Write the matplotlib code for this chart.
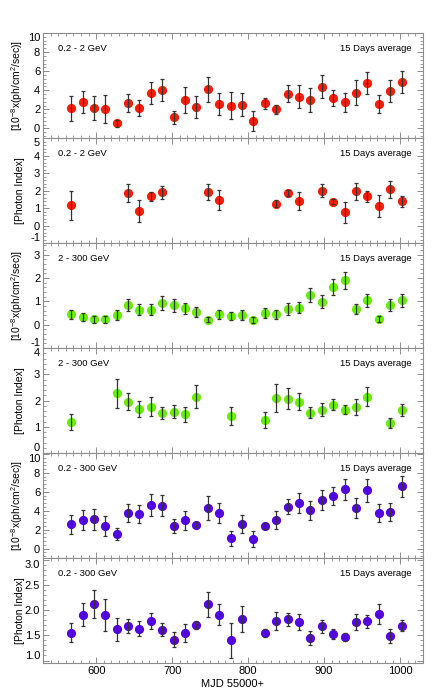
import numpy as np
import matplotlib
matplotlib.use("Agg")
import matplotlib.pyplot as plt
from matplotlib.ticker import MultipleLocator, AutoMinorLocator

plt.rcParams['font.family'] = ['Liberation Sans', 'DejaVu Sans']
plt.rcParams['mathtext.fontset'] = 'custom'
plt.rcParams['mathtext.rm'] = 'Liberation Sans'
plt.rcParams['mathtext.it'] = 'Liberation Sans:italic'

# MJD - 55000, 15 day bins
mjd_all = [567, 582, 597, 612, 627, 642, 657, 672, 687, 702,
           717, 732, 747, 762, 777, 792, 807, 822, 837, 852,
           867, 882, 897, 912, 927, 942, 957, 972, 987, 1002]

# 0.2 - 2 GeV flux
flux_low = [2.1, 2.74, 2.14, 2.04, 0.53, 2.7, 2.14, 3.75, 4.0, 1.16,
            3.02, 2.21, 4.1, 2.6, 2.39, 2.49, 0.81, 2.63, 2.0, 3.65,
            3.33, 2.95, 4.39, 3.19, 2.74, 3.75, 4.74, 2.56, 3.89, 4.88]
flux_low_err = [1.28, 1.14, 1.23, 1.49, 0.4, 0.95, 0.86, 1.16, 1.16, 0.72,
                1.35, 1.14, 1.32, 1.14, 1.4, 1.21, 1.04, 0.6, 0.49, 0.88,
                1.21, 1.25, 1.18, 0.82, 1.02, 1.32, 1.16, 0.98, 1.16, 1.14]

# 0.2 - 2 GeV photon index
mjd_idx_low = [567, 642, 657, 672, 687, 747, 762, 837, 852, 867,
               897, 912, 927, 942, 957, 972, 987, 1002]
idx_low = [1.15, 1.87, 0.81, 1.67, 1.9, 1.94, 1.48, 1.25, 1.87, 1.42,
           1.98, 1.37, 0.75, 1.96, 1.67, 1.12, 2.06, 1.38]
idx_low_err = [0.82, 0.53, 0.63, 0.27, 0.38, 0.46, 0.57, 0.18, 0.16, 0.52,
               0.37, 0.13, 0.62, 0.49, 0.33, 0.63, 0.48, 0.33]

# 2 - 300 GeV flux
flux_high = [0.44, 0.31, 0.24, 0.24, 0.41, 0.84, 0.64, 0.64, 0.94, 0.83,
             0.71, 0.54, 0.21, 0.44, 0.37, 0.4, 0.2, 0.5, 0.44, 0.67,
             0.73, 1.26, 0.99, 1.63, 1.9, 0.67, 1.04, 0.24, 0.84, 1.04]
flux_high_err = [0.2, 0.17, 0.15, 0.15, 0.2, 0.27, 0.23, 0.24, 0.29, 0.27,
                 0.24, 0.23, 0.1, 0.21, 0.19, 0.21, 0.14, 0.21, 0.2, 0.24,
                 0.24, 0.3, 0.29, 0.34, 0.36, 0.23, 0.29, 0.12, 0.26, 0.29]

# 2 - 300 GeV photon index
mjd_idx_high = [567, 627, 642, 657, 672, 687, 702, 717, 732, 777,
                822, 837, 852, 867, 882, 897, 912, 927, 942, 957,
                987, 1002]
idx_high = [1.19, 2.28, 1.95, 1.68, 1.77, 1.53, 1.58, 1.47, 2.15, 1.4,
            1.27, 2.1, 2.06, 1.95, 1.53, 1.65, 1.83, 1.65, 1.74, 2.15,
            1.15, 1.63]
idx_high_err = [0.3, 0.55, 0.32, 0.3, 0.35, 0.24, 0.26, 0.27, 0.44, 0.35,
                0.31, 0.53, 0.4, 0.32, 0.21, 0.24, 0.21, 0.18, 0.3, 0.36,
                0.2, 0.23]

# 0.2 - 300 GeV flux
flux_all = [2.58, 3.0, 3.1, 2.37, 1.55, 3.78, 3.64, 4.6, 4.52, 2.4,
            3.0, 2.54, 4.31, 3.78, 1.1, 2.61, 1.02, 2.4, 3.04, 4.42,
            4.77, 4.03, 5.09, 5.55, 6.25, 4.28, 6.15, 3.78, 3.82, 6.57]
flux_all_err = [1.0, 1.04, 1.11, 1.08, 0.67, 0.92, 0.92, 1.2, 1.1, 0.76,
                1.0, 0.28, 1.24, 1.08, 0.8, 0.97, 0.88, 0.3, 0.97, 0.78,
                1.06, 0.97, 1.06, 0.97, 1.13, 1.06, 1.18, 0.94, 0.95, 1.1]

# 0.2 - 300 GeV photon index
mjd_idx_all = [567, 582, 597, 612, 627, 642, 657, 672, 687, 702,
               717, 732, 747, 762, 777, 792, 822, 837, 852, 867,
               882, 897, 912, 927, 942, 957, 972, 987, 1002]
idx_all = [1.55, 1.91, 2.12, 1.9, 1.62, 1.68, 1.63, 1.78, 1.61, 1.41,
           1.55, 1.7, 2.11, 1.91, 1.4, 1.82, 1.55, 1.78, 1.82, 1.77,
           1.45, 1.68, 1.53, 1.46, 1.76, 1.78, 1.92, 1.49, 1.69]
idx_all_err = [0.19, 0.22, 0.27, 0.32, 0.23, 0.14, 0.15, 0.16, 0.13, 0.15,
               0.18, 0.08, 0.24, 0.2, 0.35, 0.25, 0.08, 0.18, 0.13, 0.16,
               0.14, 0.13, 0.1, 0.08, 0.16, 0.13, 0.2, 0.14, 0.11]

# y tick labels per panel
ticks_flux_low = [0, 2, 4, 6, 8, 10]
ticks_idx_low = [-1, 0, 1, 2, 3, 4, 5]
ticks_flux_high = [-1, 0, 1, 2, 3]
ticks_idx_high = [0, 1, 2, 3, 4]
ticks_flux_all = [0, 2, 4, 6, 8, 10]
ticks_idx_all = [1.0, 1.5, 2.0, 2.5, 3.0]

red = '#ff1a00'
green = '#66ee00'
purple = '#5500ee'

flux_label = r'[10$^{-8}$x(ph/cm$^2$/sec)]'
index_label = '[Photon Index]'

panels = [
    (mjd_all, flux_low, flux_low_err, red, '0.2 - 2 GeV', flux_label, (-1, 10), ticks_flux_low, '%g'),
    (mjd_idx_low, idx_low, idx_low_err, red, '0.2 - 2 GeV', index_label, (-1, 5), ticks_idx_low, '%g'),
    (mjd_all, flux_high, flux_high_err, green, '2 - 300 GeV', flux_label, (-1, 3.5), ticks_flux_high, '%g'),
    (mjd_idx_high, idx_high, idx_high_err, green, '2 - 300 GeV', index_label, (0, 4), ticks_idx_high, '%g'),
    (mjd_all, flux_all, flux_all_err, purple, '0.2 - 300 GeV', flux_label, (-1, 10.1), ticks_flux_all, '%g'),
    (mjd_idx_all, idx_all, idx_all_err, purple, '0.2 - 300 GeV', index_label, (0.95, 3.03), ticks_idx_all, '%.1f'),
]

fig, axes = plt.subplots(6, 1, figsize=(4.36, 6.98), dpi=100, sharex=True)
fig.subplots_adjust(left=0.0986, right=0.970, top=0.9527, bottom=0.0501, hspace=0)

frame = '#8c8c8c'
for ax, (x, y, e, col, band, ylab, ylim, yt, fmt) in zip(axes, panels):
    ax.plot(x, y, 'o', color=col, ms=5.6, mec=col, zorder=2)
    ax.errorbar(x, y, yerr=e, fmt='none', ecolor='#333333', elinewidth=0.9,
                capsize=1.6, capthick=0.9, zorder=3)
    ax.set_xlim(530, 1030)
    ax.set_ylim(*ylim)
    ax.set_yticks(yt)
    ax.set_yticklabels([fmt % v for v in yt])
    ax.yaxis.set_minor_locator(AutoMinorLocator(5))
    ax.xaxis.set_major_locator(MultipleLocator(100))
    ax.xaxis.set_minor_locator(MultipleLocator(10))
    ax.tick_params(which='both', direction='in', top=True, right=True,
                   color=frame, labelsize=8, pad=2)
    ax.tick_params(which='major', length=4, width=0.7)
    ax.tick_params(which='minor', length=2, width=0.6)
    for sp in ax.spines.values():
        sp.set_color(frame)
        sp.set_linewidth(0.8)
    # keep edge labels inside their own panel
    for t in ax.yaxis.get_major_ticks():
        loc = t.get_loc()
        if abs(loc - ylim[1]) < 0.15:
            t.label1.set_va('top')
        elif abs(loc - ylim[0]) < 0.15:
            t.label1.set_va('bottom')
    ax.set_ylabel(ylab, fontsize=7.5)
    ax.yaxis.set_label_coords(-0.047, 0.5)
    ax.text(0.039, 0.85, band, transform=ax.transAxes, fontsize=6.8,
            ha='left', va='center')
    ax.text(0.971, 0.85, '15 Days average', transform=ax.transAxes,
            fontsize=6.8, ha='right', va='center')

axes[-1].set_xlabel('MJD 55000+', fontsize=8, labelpad=2)

fig.savefig('out.png', dpi=100)
